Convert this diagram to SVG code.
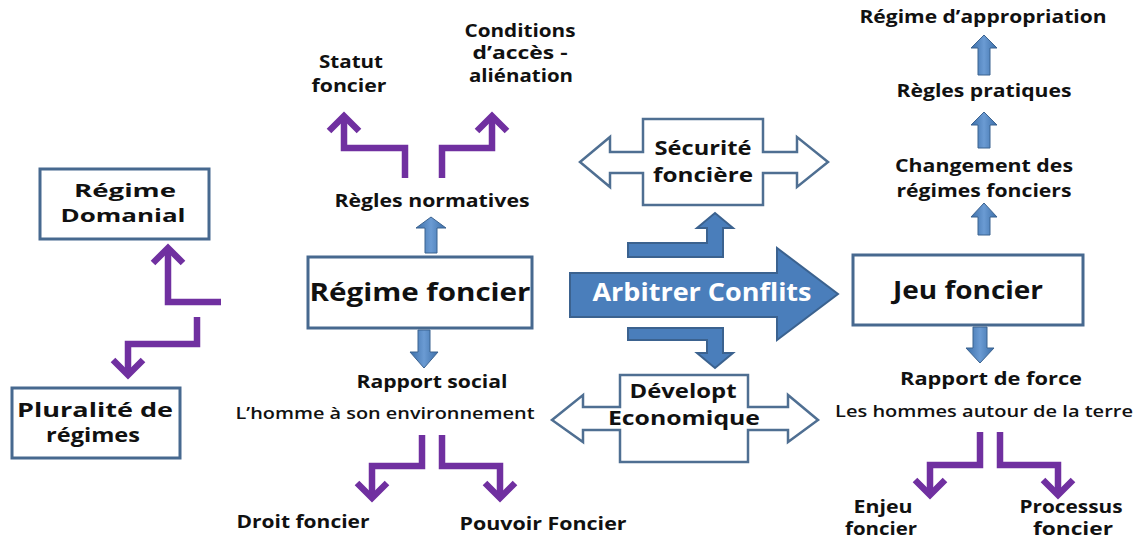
<svg xmlns="http://www.w3.org/2000/svg" width="1147" height="540" viewBox="0 0 1147 540">
  <style>
    .box { fill: #ffffff; stroke: #47698f; stroke-width: 3; }
    .callout { fill: #ffffff; stroke: #4f6f92; stroke-width: 2.5; stroke-linejoin: miter; }
    .lbl { font-family: "Open Sans", "Liberation Sans", sans-serif; font-weight: 700; fill: #111111; text-anchor: middle; }
    .big { font-size: 25px; }
    .mid { font-size: 20px; }
    .midsm { font-size: 18px; }
    .sm { font-size: 17.5px; }
    .plain { font-family: "Open Sans", "Liberation Sans", sans-serif; font-weight: 600; fill: #111111; text-anchor: middle; font-size: 17px; }
    .purple { fill: none; stroke: #7030a0; stroke-width: 6.5; stroke-linejoin: miter; }
    .blue { fill: url(#blueGrad); stroke: #3b628f; stroke-width: 1; }
    .bluebig { fill: #4a7ebb; stroke: #3b628f; stroke-width: 2; }
  </style>
  <defs>
    <linearGradient id="blueGrad" x1="0" y1="0" x2="1" y2="0">
      <stop offset="0" stop-color="#3b6ea8"/>
      <stop offset="0.5" stop-color="#6b9bd3"/>
      <stop offset="1" stop-color="#3b6ea8"/>
    </linearGradient>
  </defs>
  <rect width="1147" height="540" fill="#ffffff"/>

  <!-- connectors -->
  <g id="connectors">
    <!-- purple bent arrows -->
    <path class="purple" d="M221,302 H168 V251"/>
    <path class="purple" d="M153,263 L168,248 L183,263"/>
    <path class="purple" d="M197,317 V344 H128 V372"/>
    <path class="purple" d="M113,360 L128,375 L143,360"/>

    <path class="purple" d="M405,178 V148 H344 V119"/>
    <path class="purple" d="M329,131 L344,116 L359,131"/>
    <path class="purple" d="M442,178 V148 H492 V119"/>
    <path class="purple" d="M477,131 L492,116 L507,131"/>

    <path class="purple" d="M422,435 V466 H372 V495"/>
    <path class="purple" d="M357,483 L372,498 L387,483"/>
    <path class="purple" d="M442,435 V466 H500 V495"/>
    <path class="purple" d="M485,483 L500,498 L515,483"/>

    <path class="purple" d="M980,432 V465 H930 V492"/>
    <path class="purple" d="M915,480 L930,495 L945,480"/>
    <path class="purple" d="M1000,432 V465 H1058 V492"/>
    <path class="purple" d="M1043,480 L1058,495 L1073,480"/>

    <!-- small blue block arrows -->
    <path class="blue" d="M425,253 V228 H416 L431,217 L446,228 H437 V253 Z"/>
    <path class="blue" d="M418,330 V352 H410 L424,368 L438,352 H430 V330 Z"/>
    <path class="blue" d="M978,235 V217 H971 L984,203 L997,217 H990 V235 Z"/>
    <path class="blue" d="M978,148 V125 H971 L984,112 L997,125 H990 V148 Z"/>
    <path class="blue" d="M978,75 V48 H971 L984,35 L997,48 H990 V75 Z"/>
    <path class="blue" d="M973,327 V348 H966 L980,363 L994,348 H987 V327 Z"/>

    <!-- bent blue arrows to the callouts -->
    <path class="bluebig" d="M628,243 H707 V228 H697 L715,213 L733,228 H723 V257 H628 Z"/>
    <path class="bluebig" d="M628,328 H723 V353 H733 L715,368 L697,353 H707 V340 H628 Z"/>
  </g>

  <!-- left column -->
  <g id="regime-domanial">
    <rect class="box" x="40" y="169" width="169" height="70"/>
    <text class="lbl midsm" x="125" y="196.5" textLength="102" lengthAdjust="spacingAndGlyphs">Régime</text>
    <text class="lbl midsm" x="123" y="221.5" textLength="125" lengthAdjust="spacingAndGlyphs">Domanial</text>
  </g>
  <g id="pluralite">
    <rect class="box" x="12" y="388" width="168" height="70"/>
    <text class="lbl mid" x="95" y="417" textLength="156" lengthAdjust="spacingAndGlyphs">Pluralité de</text>
    <text class="lbl mid" x="93" y="442" textLength="94" lengthAdjust="spacingAndGlyphs">régimes</text>
  </g>

  <!-- centre-left column -->
  <g id="statut-foncier">
    <text class="lbl sm" x="351" y="68" textLength="64" lengthAdjust="spacingAndGlyphs">Statut</text>
    <text class="lbl sm" x="349" y="92" textLength="75" lengthAdjust="spacingAndGlyphs">foncier</text>
  </g>
  <g id="conditions-acces">
    <text class="lbl sm" x="520" y="37" textLength="111" lengthAdjust="spacingAndGlyphs">Conditions</text>
    <text class="lbl sm" x="520" y="59" textLength="95" lengthAdjust="spacingAndGlyphs">d’accès -</text>
    <text class="lbl sm" x="521" y="82" textLength="104" lengthAdjust="spacingAndGlyphs">aliénation</text>
  </g>
  <g id="regles-normatives">
    <text class="lbl sm" x="432" y="207" textLength="195" lengthAdjust="spacingAndGlyphs">Règles normatives</text>
  </g>
  <g id="regime-foncier">
    <rect class="box" x="308" y="257" width="224" height="71"/>
    <text class="lbl big" x="420" y="301" textLength="221" lengthAdjust="spacingAndGlyphs">Régime foncier</text>
  </g>
  <g id="rapport-social">
    <text class="lbl sm" x="432" y="388" textLength="151" lengthAdjust="spacingAndGlyphs">Rapport social</text>
    <text class="plain" x="385" y="419" textLength="299" lengthAdjust="spacingAndGlyphs">L’homme à son environnement</text>
  </g>
  <g id="droit-foncier">
    <text class="lbl sm" x="303" y="528" textLength="133" lengthAdjust="spacingAndGlyphs">Droit foncier</text>
  </g>
  <g id="pouvoir-foncier">
    <text class="lbl sm" x="543" y="530" textLength="167" lengthAdjust="spacingAndGlyphs">Pouvoir Foncier</text>
  </g>

  <!-- centre column -->
  <g id="securite-fonciere">
    <path class="callout" d="M643,119 H763 V152 H797 V137 L828,162 L797,187 V173 H763 V205 H643 V173 H610 V187 L580,162 L610,137 V152 H643 Z"/>
    <text class="lbl mid" x="703" y="155" textLength="97" lengthAdjust="spacingAndGlyphs">Sécurité</text>
    <text class="lbl mid" x="703" y="182" textLength="100" lengthAdjust="spacingAndGlyphs">foncière</text>
  </g>
  <g id="arbitrer-conflits">
    <path class="bluebig" d="M570,273 H777 V248 L838,294 L777,340 V317 H570 Z"/>
    <text class="lbl big" x="702" y="301" textLength="219" lengthAdjust="spacingAndGlyphs" style="fill:#ffffff">Arbitrer Conflits</text>
  </g>
  <g id="developpement-economique">
    <path class="callout" d="M620,375 H748 V407 H788 V395 L818,420 L788,442 V430 H748 V462 H620 V430 H583 V442 L552,420 L583,395 V407 H620 Z"/>
    <text class="lbl mid" x="683" y="398" textLength="107" lengthAdjust="spacingAndGlyphs">Dévelopt</text>
    <text class="lbl mid" x="684" y="425" textLength="152" lengthAdjust="spacingAndGlyphs">Economique</text>
  </g>

  <!-- right column -->
  <g id="regime-appropriation">
    <text class="lbl sm" x="983" y="23" textLength="247" lengthAdjust="spacingAndGlyphs">Régime d’appropriation</text>
  </g>
  <g id="regles-pratiques">
    <text class="lbl sm" x="984" y="97" textLength="175" lengthAdjust="spacingAndGlyphs">Règles pratiques</text>
  </g>
  <g id="changement-regimes">
    <text class="lbl sm" x="984" y="172" textLength="178" lengthAdjust="spacingAndGlyphs">Changement des</text>
    <text class="lbl sm" x="984" y="197" textLength="175" lengthAdjust="spacingAndGlyphs">régimes fonciers</text>
  </g>
  <g id="jeu-foncier">
    <rect class="box" x="853" y="255" width="230" height="70"/>
    <text class="lbl big" x="968" y="299" textLength="150" lengthAdjust="spacingAndGlyphs">Jeu foncier</text>
  </g>
  <g id="rapport-force">
    <text class="lbl sm" x="991" y="385" textLength="182" lengthAdjust="spacingAndGlyphs">Rapport de force</text>
    <text class="plain" x="984" y="417" textLength="298" lengthAdjust="spacingAndGlyphs">Les hommes autour de la terre</text>
  </g>
  <g id="enjeu-foncier">
    <text class="lbl sm" x="883" y="513" textLength="59" lengthAdjust="spacingAndGlyphs">Enjeu</text>
    <text class="lbl sm" x="881" y="535" textLength="72" lengthAdjust="spacingAndGlyphs">foncier</text>
  </g>
  <g id="processus-foncier">
    <text class="lbl sm" x="1071" y="513" textLength="103" lengthAdjust="spacingAndGlyphs">Processus</text>
    <text class="lbl sm" x="1073" y="535" textLength="80" lengthAdjust="spacingAndGlyphs">foncier</text>
  </g>
</svg>
